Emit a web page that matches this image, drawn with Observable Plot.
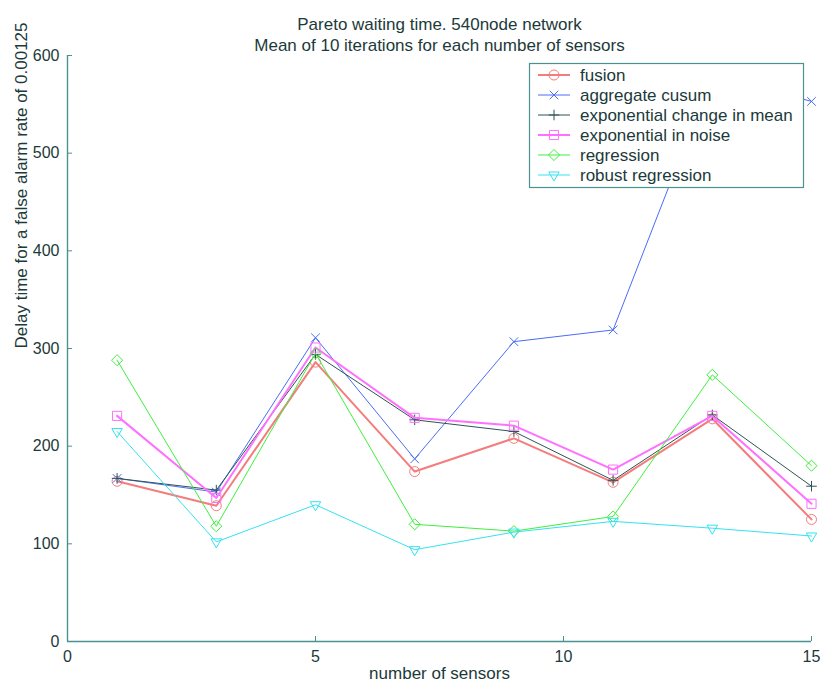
<!DOCTYPE html>
<html><head><meta charset="utf-8">
<script src="https://cdn.jsdelivr.net/npm/d3@7"></script>
<script src="https://cdn.jsdelivr.net/npm/@observablehq/plot@0.6"></script>
<style>
html,body{margin:0;padding:0;background:#fff;}
#chart{position:relative;width:823px;height:694px;}
</style></head><body><div id="chart"></div>
<script>
// ---- data ----
const sensors = [1, 3, 5, 7, 9, 11, 13, 15];
const seriesNames = ["fusion", "aggregate cusum", "exponential change in mean", "exponential in noise", "regression", "robust regression"];
const fusion = [164, 139, 286, 174, 208, 163, 228, 125];
const aggregateCusum = [167, 153, 311, 187, 307, 319, 580, 553];
const expChangeMean = [167, 155, 294, 227, 215, 165, 232, 159];
const expInNoise = [231, 147, 301, 229, 221, 176, 231, 141];
const regression = [288, 118, 295, 120, 113, 128, 273, 180];
const robustRegression = [215, 102, 140, 94, 112, 123, 116, 108];
const yTicks = [0, 100, 200, 300, 400, 500, 600];
const xTicks = [0, 5, 10, 15];
const titleLines = ["Pareto waiting time. 540node network", "Mean of 10 iterations for each number of sensors"];
const xLabel = "number of sensors";
const yLabel = "Delay time for a false alarm rate of 0.00125";

// ---- styles ----
const textColor = "#1c3a3a";
const axisColor = "#4a9292";
const styles = [
  {color: "#f47c7c", width: 2, symbol: "circle", r: 5, rotate: 0},
  {color: "#4a6cf7", width: 1, symbol: "times", r: 4, rotate: 0},
  {color: "#2e5454", width: 1, symbol: "plus", r: 3.5, rotate: 0},
  {color: "#ff70ff", width: 2, symbol: "square2", r: 5.8, rotate: 0},
  {color: "#3ef03e", width: 1, symbol: "diamond2", r: 5, rotate: 0},
  {color: "#35e2f0", width: 1, symbol: "triangle2", r: 5, rotate: 180}
];
const allValues = [fusion, aggregateCusum, expChangeMean, expInNoise, regression, robustRegression];
const series = seriesNames.map((name, i) => ({
  name, style: styles[i],
  data: sensors.map((s, j) => ({x: s, y: allValues[i][j]}))
}));

const marks = [];
series.forEach(s => {
  marks.push(Plot.line(s.data, {x: "x", y: "y", stroke: s.style.color, strokeWidth: s.style.width}));
  marks.push(Plot.dot(s.data, {x: "x", y: "y", stroke: s.style.color, strokeWidth: 1, fill: "none",
    symbol: s.style.symbol, r: s.style.r, rotate: s.style.rotate}));
});

const plot = Plot.plot({
  width: 823, height: 694,
  marginLeft: 67, marginRight: 12, marginTop: 55, marginBottom: 53,
  style: {fontFamily: "'Liberation Sans', Arial, sans-serif", fontSize: "16px", color: textColor, background: "white"},
  x: {domain: [0, 15]},
  y: {domain: [0, 600]},
  marks: [
    Plot.ruleX([0], {stroke: axisColor, strokeWidth: 1.4}),
    Plot.ruleY([0], {stroke: axisColor, strokeWidth: 1.4}),
    Plot.axisX({ticks: xTicks, tickSize: -5, tickPadding: 14, label: null, stroke: axisColor, fontSize: 16}),
    Plot.axisY({ticks: yTicks, tickSize: -5, tickPadding: 13, label: null, stroke: axisColor, fontSize: 16}),
    ...marks,
    Plot.text([titleLines[0]], {frameAnchor: "top", dy: -38, fontSize: 17, fill: textColor}),
    Plot.text([titleLines[1]], {frameAnchor: "top", dy: -17, fontSize: 17, fill: textColor}),
    Plot.text([xLabel], {frameAnchor: "bottom", dy: 37, fontSize: 17, fill: textColor}),
    Plot.text([yLabel], {frameAnchor: "left", dx: -46, rotate: -90, fontSize: 17, fill: textColor})
  ]
});
document.getElementById("chart").appendChild(plot);

// ---- legend (opaque box drawn over the lines) ----
const svg = d3.select(plot);
const lg = svg.append("g").attr("text-anchor", "start");
lg.append("rect").attr("x", 529.5).attr("y", 63.5).attr("width", 274).attr("height", 124)
  .attr("fill", "white").attr("stroke", axisColor).attr("stroke-width", 1.2);
const symMap = {circle: d3.symbolCircle, times: d3.symbolTimes, plus: d3.symbolPlus,
  square2: d3.symbolSquare2, diamond2: d3.symbolDiamond2, triangle2: d3.symbolTriangle2};
series.forEach((s, i) => {
  const y = 75 + 20 * i;
  lg.append("line").attr("x1", 538).attr("x2", 570).attr("y1", y).attr("y2", y)
    .attr("stroke", s.style.color).attr("stroke-width", s.style.width);
  lg.append("path").attr("d", d3.symbol(symMap[s.style.symbol], Math.PI * s.style.r * s.style.r)())
    .attr("transform", `translate(554,${y}) rotate(${s.style.rotate})`)
    .attr("fill", "none").attr("stroke", s.style.color);
  lg.append("text").attr("x", 580).attr("y", y).attr("dy", "0.35em")
    .attr("font-size", 17).attr("fill", textColor).text(s.name);
});
</script></body></html>
